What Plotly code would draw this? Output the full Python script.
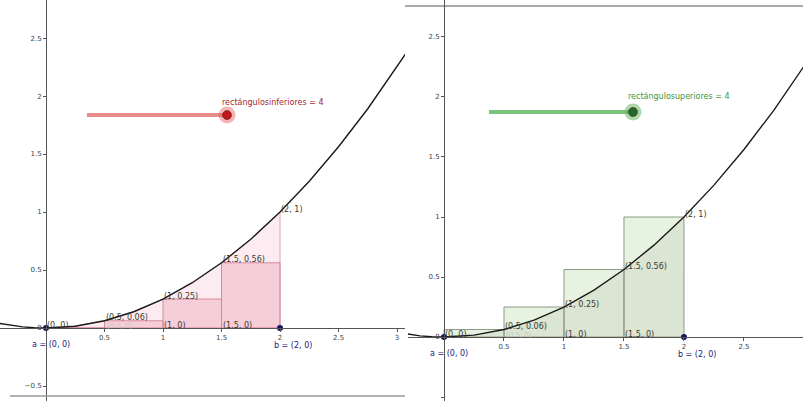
import plotly.graph_objects as go

# ---- data ----
curve_x = [-0.4, -0.3, -0.2, -0.1, 0, 0.25, 0.5, 0.75, 1, 1.25, 1.5, 1.75, 2, 2.25, 2.5, 2.75, 3, 3.1]
curve_y = [0.04, 0.0225, 0.01, 0.0025, 0, 0.0156, 0.0625, 0.1406, 0.25, 0.3906, 0.5625, 0.7656, 1, 1.2656,
           1.5625, 1.8906, 2.25, 2.4025]

interval = [0, 2]                      # a = (0, 0), b = (2, 0)
rect_left = [0, 0.5, 1, 1.5]
rect_width = 0.5
lower_heights = [0, 0.0625, 0.25, 0.5625]
upper_heights = [0.0625, 0.25, 0.5625, 1]

label_x = [0, 0.5, 1, 1.5, 2, 1, 1.5]
label_y = [0, 0.0625, 0.25, 0.5625, 1, 0, 0]
label_text = ["(0, 0)", "(0.5, 0.06)", "(1, 0.25)", "(1.5, 0.56)", "(2, 1)", "(1, 0)", "(1.5, 0)"]

slider_names = ["rectángulosinferiores", "rectángulosuperiores"]
slider_values = [4, 4]

x_ticks_left = [0.5, 1, 1.5, 2, 2.5, 3]
x_ticks_right = [0.5, 1, 1.5, 2, 2.5]
y_ticks = [-0.5, 0, 0.5, 1, 1.5, 2, 2.5]

FONT = "DejaVu Sans"
W, H = 803, 401


def rect_poly(lefts, heights, w):
    xs, ys = [], []
    for l, h in zip(lefts, heights):
        xs += [l, l + w, l + w, l, l, None]
        ys += [0, 0, h, h, 0, None]
    return xs, ys


def area_poly(cx, cy, lo, hi):
    xs = [x for x in cx if lo <= x <= hi]
    ys = [y for x, y in zip(cx, cy) if lo <= x <= hi]
    return xs + [hi, lo, lo], ys + [0, 0, ys[0]]


fig = go.Figure()

# ---------- left panel (lower sums) ----------
ax, ay = area_poly(curve_x, curve_y, interval[0], interval[1])
fig.add_trace(go.Scatter(x=ax, y=ay, mode="lines", fill="toself", fillcolor="rgba(245,200,215,0.35)",
                         line=dict(color="#e3a3b6", width=1), xaxis="x", yaxis="y", hoverinfo="skip"))
rx, ry = rect_poly(rect_left, lower_heights, rect_width)
fig.add_trace(go.Scatter(x=rx, y=ry, mode="lines", fill="toself", fillcolor="rgba(240,170,188,0.45)",
                         line=dict(color="#d68a9c", width=1), xaxis="x", yaxis="y", hoverinfo="skip"))
fig.add_trace(go.Scatter(x=curve_x, y=curve_y, mode="lines", line=dict(color="#1a1a1a", width=1.4),
                         xaxis="x", yaxis="y", hoverinfo="skip"))
fig.add_trace(go.Scatter(x=interval, y=[0, 0], mode="markers", marker=dict(color="#15155e", size=6),
                         xaxis="x", yaxis="y", hoverinfo="skip"))

# ---------- right panel (upper sums) ----------
rx, ry = rect_poly(rect_left, upper_heights, rect_width)
fig.add_trace(go.Scatter(x=rx, y=ry, mode="lines", fill="toself", fillcolor="rgba(215,235,205,0.6)",
                         line=dict(color="#8d9a88", width=1), xaxis="x2", yaxis="y2", hoverinfo="skip"))
fig.add_trace(go.Scatter(x=ax, y=ay, mode="lines", fill="toself", fillcolor="rgba(140,140,120,0.13)",
                         line=dict(color="rgba(0,0,0,0)", width=0), xaxis="x2", yaxis="y2", hoverinfo="skip"))
fig.add_trace(go.Scatter(x=curve_x, y=curve_y, mode="lines", line=dict(color="#1a1a1a", width=1.4),
                         xaxis="x2", yaxis="y2", hoverinfo="skip"))
fig.add_trace(go.Scatter(x=interval, y=[0, 0], mode="markers", marker=dict(color="#15155e", size=6),
                         xaxis="x2", yaxis="y2", hoverinfo="skip"))

# ---------- sliders ----------
sliders = [
    dict(xr="x", yr="y", x0=0.35, x1=1.547, y=1.836, line="#e98d8c", halo="rgba(230,90,90,0.45)",
         knob="#c01620", txt="#a8262c", lx=1.487, ly=1.948),
    dict(xr="x2", yr="y2", x0=0.375, x1=1.575, y=1.875, line="#80c47c", halo="rgba(90,175,90,0.5)",
         knob="#1d6b28", txt="#3e963e", lx=1.517, ly=2.008),
]
annotations = []
for s, name, val in zip(sliders, slider_names, slider_values):
    fig.add_trace(go.Scatter(x=[s["x0"], s["x1"]], y=[s["y"], s["y"]], mode="lines",
                             line=dict(color=s["line"], width=4), xaxis=s["xr"], yaxis=s["yr"],
                             hoverinfo="skip"))
    fig.add_trace(go.Scatter(x=[s["x1"]], y=[s["y"]], mode="markers",
                             marker=dict(color=s["halo"], size=17), xaxis=s["xr"], yaxis=s["yr"],
                             hoverinfo="skip"))
    fig.add_trace(go.Scatter(x=[s["x1"]], y=[s["y"]], mode="markers",
                             marker=dict(color=s["knob"], size=9, line=dict(color="#5a0a0a", width=0.5)),
                             xaxis=s["xr"], yaxis=s["yr"], hoverinfo="skip"))
    annotations.append(dict(x=s["lx"], y=s["ly"], xref=s["xr"], yref=s["yr"], text=f"{name} = {val}",
                            showarrow=False, xanchor="left", yanchor="middle",
                            font=dict(family=FONT, size=8, color=s["txt"])))

# ---------- point labels ----------
for xr, yr in [("x", "y"), ("x2", "y2")]:
    for x, y, t in zip(label_x, label_y, label_text):
        annotations.append(dict(x=x, y=y, xref=xr, yref=yr, text=t, showarrow=False, xanchor="left",
                                yanchor="middle", yshift=3, xshift=-1,
                                font=dict(family=FONT, size=8, color="#3a3a30")))
    annotations.append(dict(x=0.5, y=0, xref=xr, yref=yr, text="(0.5, 0)", showarrow=False, xanchor="left",
                            yanchor="middle", yshift=2, font=dict(family=FONT, size=7, color="#c8c8c0")))
    annotations.append(dict(x=interval[0], y=0, xref=xr, yref=yr, text="a = (0, 0)", showarrow=False,
                            xanchor="left", yanchor="middle", xshift=-16, yshift=-16,
                            font=dict(family=FONT, size=8, color="#22227a")))
    annotations.append(dict(x=interval[1], y=0, xref=xr, yref=yr, text="b = (2, 0)", showarrow=False,
                            xanchor="left", yanchor="middle", xshift=-8, yshift=-17,
                            font=dict(family=FONT, size=8, color="#22227a")))

axis_common = dict(showgrid=False, zeroline=False, showline=True, linecolor="#555555", linewidth=1,
                   ticks="outside", ticklen=3, tickcolor="#555555", anchor="free",
                   tickfont=dict(family=FONT, size=7, color="#444444"), fixedrange=True)

fig.update_layout(
    width=W, height=H, margin=dict(l=0, r=0, t=0, b=0), showlegend=False,
    paper_bgcolor="white", plot_bgcolor="white", hovermode=False,
    xaxis=dict(domain=[0, 405 / W], range=[-0.393, 3.068], tickvals=x_ticks_left,
               position=1 - 328 / H, **axis_common),
    yaxis=dict(domain=[0, 1], range=[-0.629, 2.828], tickvals=y_ticks, position=46 / W, **axis_common),
    xaxis2=dict(domain=[408 / W, 1], range=[-0.3, 2.992], tickvals=x_ticks_right,
                position=1 - 337 / H, **axis_common),
    yaxis2=dict(domain=[0, 1], range=[-0.533, 2.808], tickvals=y_ticks, position=444 / W, **axis_common),
    annotations=annotations,
    shapes=[
        dict(type="line", xref="paper", yref="paper", x0=10 / W, x1=405 / W, y0=1 - 396 / H, y1=1 - 396 / H,
             line=dict(color="#999999", width=1.5)),
        dict(type="line", xref="paper", yref="paper", x0=405 / W, x1=1, y0=1 - 6 / H, y1=1 - 6 / H,
             line=dict(color="#555555", width=1.2)),
    ],
)

fig.write_html("out.html", config={"displayModeBar": False, "staticPlot": True},
               post_script="document.body.style.margin='0px';document.body.style.padding='0px';")
